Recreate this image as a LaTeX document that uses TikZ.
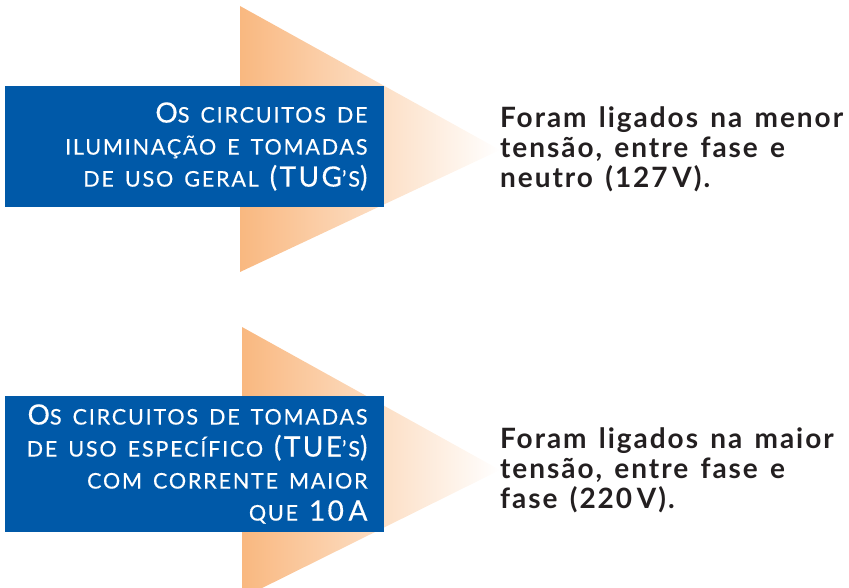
\documentclass[tikz,border=0pt]{standalone}
\usepackage{fontspec}
\setmainfont{Lato}
\newfontfamily\boxfont[LetterSpace=8.5,FakeBold=0.4]{Lato}
\newfontfamily\notefont[LetterSpace=7,WordSpace=1.4]{Lato Bold}

\definecolor{boxblue}{RGB}{0,89,168}
\definecolor{arroworange}{RGB}{249,184,128}
\definecolor{notegray}{RGB}{35,31,32}

% versal grande nas caixas
\newcommand{\capgrande}[1]{{\fontsize{28}{32}\selectfont #1}}

\tikzset{
  caixa/.style={fill=boxblue, text=white, inner sep=0pt, inner xsep=16.5pt,
    minimum width=379pt, text width=346pt, align=right,
    font=\boxfont\fontsize{21.5}{32}\selectfont,
    execute at begin node={\spaceskip=11pt\relax}},
  nota/.style={anchor=north west, inner sep=0pt, align=left, text=notegray,
    font=\notefont\fontsize{28}{30}\selectfont}
}

\begin{document}
\begin{tikzpicture}[x=1pt,y=-1pt]

\useasboundingbox (0,0) rectangle (849,588);
\clip (0,0) rectangle (849,588);

% setas
\shade[left color=arroworange, right color=white]
(240,6) -- (240,272) -- (500,150) -- cycle;

\shade[left color=arroworange, right color=white]
(242,327) -- (242,598) -- (500,470) -- cycle;

% caixas azuis
\node[caixa, minimum height=121pt]
(tug)
at (194.5,146.5)
{\capgrande{O}S CIRCUITOS DE\\
ILUMINAÇÃO E TOMADAS\\
DE USO GERAL \capgrande{(TUG}’S\capgrande{)}};

\node[caixa, minimum height=136pt]
(tue)
at (194.5,464)
{\capgrande{O}S CIRCUITOS DE TOMADAS\\
DE USO ESPECÍFICO \capgrande{(TUE}’S\capgrande{)}\\
COM CORRENTE MAIOR\\
QUE \capgrande{10\,A}};

% textos
\node[nota]
(menor)
at (500,106)
{Foram ligados na menor\\
tensão, entre fase e\\
neutro (127\,V).};

\node[nota]
(maior)
at (500,427)
{Foram ligados na maior\\
tensão, entre fase e\\
fase (220\,V).};

\end{tikzpicture}
\end{document}
